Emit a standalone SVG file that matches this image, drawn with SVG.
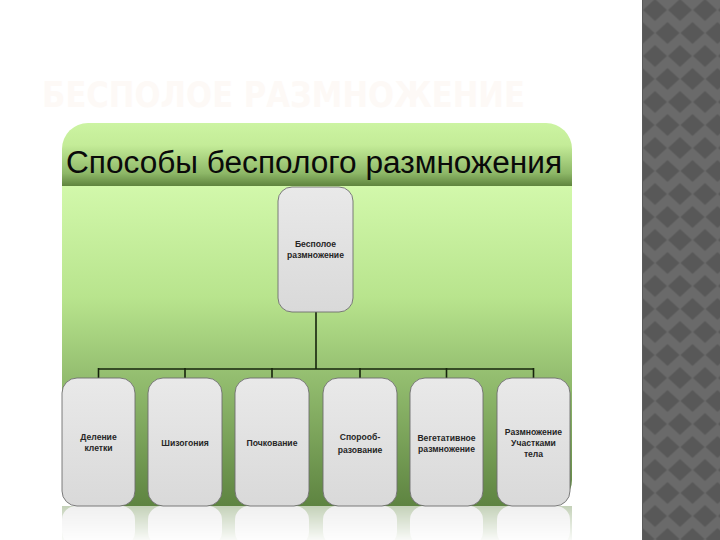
<svg xmlns="http://www.w3.org/2000/svg" width="720" height="540" viewBox="0 0 720 540">
<style>
.lbl{font-family:"Liberation Sans",Arial,sans-serif;font-size:8.6px;font-weight:bold;fill:#262626;text-anchor:middle}
.box{fill:url(#boxg);stroke:#6e6e6e;stroke-width:0.9}
.conn{stroke:#16240c;stroke-width:1.6;fill:none}
</style>
<defs>
<pattern id="diam" x="642.5" y="-1.5" width="25" height="46" patternUnits="userSpaceOnUse">
<rect width="25" height="46" fill="#6a6a6a"/>
<polygon points="12.5,0.5 24.5,11.5 12.5,22.5 0.5,11.5" fill="#585858"/>
<polygon points="0,23.5 12,34.5 0,45.5 -12,34.5" fill="#585858"/>
<polygon points="25,23.5 37,34.5 25,45.5 13,34.5" fill="#585858"/>
</pattern>
<linearGradient id="hdr" x1="0" y1="123" x2="0" y2="186" gradientUnits="userSpaceOnUse">
<stop offset="0" stop-color="#ccf4a2"/>
<stop offset="0.35" stop-color="#c4ec98"/>
<stop offset="0.8" stop-color="#8db767"/>
<stop offset="1" stop-color="#5f843e"/>
</linearGradient>
<linearGradient id="body" x1="0" y1="186" x2="0" y2="506" gradientUnits="userSpaceOnUse">
<stop offset="0" stop-color="#d2f8ab"/>
<stop offset="0.35" stop-color="#b8e48d"/>
<stop offset="0.6" stop-color="#93bd6f"/>
<stop offset="1" stop-color="#5e8441"/>
</linearGradient>
<linearGradient id="boxg" x1="0" y1="0" x2="0" y2="1">
<stop offset="0" stop-color="#e9e9e9"/>
<stop offset="1" stop-color="#d9d9d9"/>
</linearGradient>
<linearGradient id="fadeg" x1="0" y1="506" x2="0" y2="540" gradientUnits="userSpaceOnUse">
<stop offset="0" stop-color="#fff" stop-opacity="0.45"/>
<stop offset="1" stop-color="#fff" stop-opacity="0.05"/>
</linearGradient>
<mask id="fade" maskUnits="userSpaceOnUse" x="0" y="506" width="720" height="34">
<rect x="0" y="506" width="720" height="34" fill="url(#fadeg)"/>
</mask>
<clipPath id="pic">
<rect x="62" y="123" width="510" height="383" rx="26"/>
</clipPath>
</defs>
<rect width="720" height="540" fill="#ffffff"/>
<rect x="642" y="0" width="78" height="540" fill="url(#diam)"/>
<line x1="642.5" y1="0" x2="642.5" y2="540" stroke="#5a5a5a" stroke-width="1"/>
<text x="42" y="107" font-family="'DejaVu Sans Condensed','Liberation Sans',sans-serif" font-size="35" font-weight="bold" fill="#fdf9f6" textLength="483" lengthAdjust="spacingAndGlyphs">БЕСПОЛОЕ РАЗМНОЖЕНИЕ</text>
<g id="background" clip-path="url(#pic)">
<rect x="62" y="123" width="510" height="64" fill="url(#hdr)"/>
<rect x="62" y="186" width="510" height="320" fill="url(#body)"/>
</g>
<g id="reflection" mask="url(#fade)">
<rect x="62" y="506" width="510" height="34" fill="#7c9a62"/>
<rect x="62" y="506" width="73" height="40" rx="14" fill="#dcdcdc"/>
<rect x="148" y="506" width="74" height="40" rx="14" fill="#dcdcdc"/>
<rect x="235" y="506" width="74" height="40" rx="14" fill="#dcdcdc"/>
<rect x="323" y="506" width="74" height="40" rx="14" fill="#dcdcdc"/>
<rect x="410" y="506" width="73" height="40" rx="14" fill="#dcdcdc"/>
<rect x="497" y="506" width="73" height="40" rx="14" fill="#dcdcdc"/>
</g>
<text x="66" y="173" font-family="'Liberation Sans',Arial,sans-serif" font-size="31" fill="#0a0a0a" textLength="496" lengthAdjust="spacingAndGlyphs">Способы бесполого размножения</text>
<g id="connectors">
<line class="conn" x1="316" y1="312" x2="316" y2="369"/>
<line class="conn" x1="98.5" y1="369" x2="533.5" y2="369"/>
<line class="conn" x1="98.5" y1="368" x2="98.5" y2="379"/>
<line class="conn" x1="185" y1="368" x2="185" y2="379"/>
<line class="conn" x1="272" y1="368" x2="272" y2="379"/>
<line class="conn" x1="360" y1="368" x2="360" y2="379"/>
<line class="conn" x1="446.5" y1="368" x2="446.5" y2="379"/>
<line class="conn" x1="533.5" y1="368" x2="533.5" y2="379"/>
</g>
<g id="root">
<rect class="box" x="278" y="187" width="75" height="125" rx="14"/>
<text class="lbl" x="315.5" y="247">Бесполое</text>
<text class="lbl" x="315.5" y="258">размножение</text>
</g>
<g id="n1">
<rect class="box" x="62" y="378" width="73" height="128" rx="15"/>
<text class="lbl" x="98.5" y="440">Деление</text>
<text class="lbl" x="98.5" y="451">клетки</text>
</g>
<g id="n2">
<rect class="box" x="148" y="378" width="74" height="128" rx="15"/>
<text class="lbl" x="185" y="446">Шизогония</text>
</g>
<g id="n3">
<rect class="box" x="235" y="378" width="74" height="128" rx="15"/>
<text class="lbl" x="272" y="446">Почкование</text>
</g>
<g id="n4">
<rect class="box" x="323" y="378" width="74" height="128" rx="15"/>
<text class="lbl" x="360" y="440">Спорооб-</text>
<text class="lbl" x="360" y="453">разование</text>
</g>
<g id="n5">
<rect class="box" x="410" y="378" width="73" height="128" rx="15"/>
<text class="lbl" x="446.5" y="441">Вегетативное</text>
<text class="lbl" x="446.5" y="452">размножение</text>
</g>
<g id="n6">
<rect class="box" x="497" y="378" width="73" height="128" rx="15"/>
<text class="lbl" x="533.5" y="435">Размножение</text>
<text class="lbl" x="533.5" y="446">Участками</text>
<text class="lbl" x="533.5" y="457">тела</text>
</g>
</svg>
